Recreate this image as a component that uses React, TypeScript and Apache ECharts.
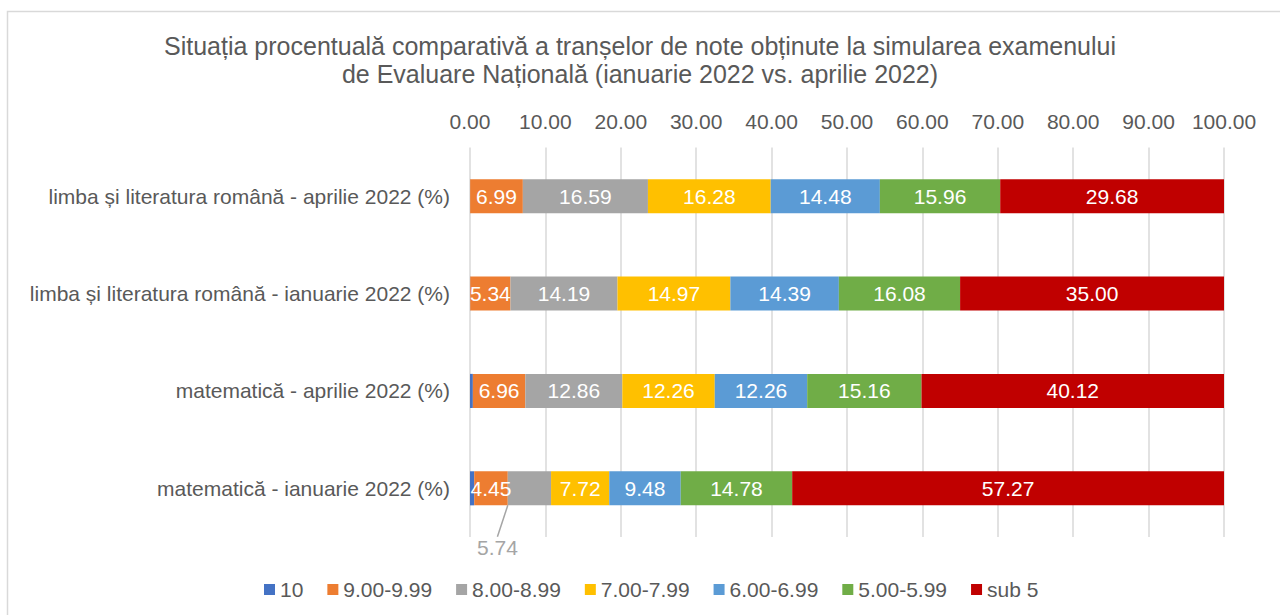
import React, { useEffect, useRef } from "react";
import * as echarts from "echarts";

const categories = [
  "matematică - ianuarie 2022 (%)",
  "matematică - aprilie 2022 (%)",
  "limba și literatura română - ianuarie 2022 (%)",
  "limba și literatura română - aprilie 2022 (%)",
];
const seriesNames = ["10", "9.00-9.99", "8.00-8.99", "7.00-7.99", "6.00-6.99", "5.00-5.99", "sub 5"];
const v10 = [0.56, 0.38, 0.03, 0.02];
const v9 = [4.45, 6.96, 5.34, 6.99];
const v8 = [5.74, 12.86, 14.19, 16.59];
const v7 = [7.72, 12.26, 14.97, 16.28];
const v6 = [9.48, 12.26, 14.39, 14.48];
const v5 = [14.78, 15.16, 16.08, 15.96];
const vSub5 = [57.27, 40.12, 35.0, 29.68];
const seriesValues = [v10, v9, v8, v7, v6, v5, vSub5];
const colors = ["#4472c4", "#ed7d31", "#a5a5a5", "#ffc000", "#5b9bd5", "#70ad47", "#c00000"];
const xTicks = { min: 0, max: 100, interval: 10 };
const titleText =
  "Situația procentuală comparativă a tranșelor de note obținute la simularea examenului\nde Evaluare Națională (ianuarie 2022 vs. aprilie 2022)";

const FONT = "'Liberation Sans', Arial, sans-serif";
const TXT = "#595959";
const FS = 21;

export default function App() {
  const ref = useRef<HTMLDivElement>(null);
  useEffect(() => {
    if (!ref.current) return;
    const chart = echarts.init(ref.current, null, { renderer: "svg" });
    const series = seriesNames.map((name, si) => {
      const isGray = si === 2;
      return {
        name,
        type: "bar",
        stack: "total",
        barWidth: "35%",
        itemStyle: { color: colors[si] },
        label: {
          show: si !== 0,
          position: "inside",
          color: "#ffffff",
          fontSize: FS,
          fontFamily: FONT,
          formatter: (p: any) => Number(p.value).toFixed(2),
        },
        labelLine: { show: false },
        labelLayout: isGray
          ? (params: any) => (params.dataIndex === 0 ? { dx: -32, dy: 59 } : {})
          : undefined,
        data: seriesValues[si].map((v, di) => {
          if (isGray && di === 0) {
            return {
              value: v,
              label: { color: "#a5a5a5" },
              labelLine: { show: true, lineStyle: { color: "#a5a5a5", width: 1.5 } },
            };
          }
          return v;
        }),
      };
    });
    chart.setOption({
      animation: false,
      textStyle: { fontFamily: FONT },
      title: {
        text: titleText,
        left: "center",
        top: 27,
        textStyle: { color: TXT, fontSize: 25, fontWeight: "normal", lineHeight: 28, fontFamily: FONT },
      },
      graphic: [
        {
          type: "rect",
          shape: { x: 7.5, y: 11.5, width: 1400, height: 800 },
          style: { fill: "none", stroke: "#d9d9d9", lineWidth: 1.5 },
          silent: true,
          z: -10,
        },
      ],
      legend: {
        left: 259,
        top: 574,
        itemWidth: 11,
        itemHeight: 11,
        itemGap: 24,
        icon: "rect",
        textStyle: { color: TXT, fontSize: FS, fontFamily: FONT },
        data: seriesNames,
      },
      grid: { left: 470, right: 56, top: 147.5, bottom: 78, containLabel: false },
      xAxis: {
        type: "value",
        position: "top",
        min: xTicks.min,
        max: xTicks.max,
        interval: xTicks.interval,
        axisLine: { show: false },
        axisTick: { show: false },
        splitLine: { show: true, lineStyle: { color: "#d9d9d9", width: 1.5 } },
        axisLabel: {
          color: TXT,
          fontSize: FS,
          fontFamily: FONT,
          margin: 16,
          formatter: (v: number) => v.toFixed(2),
        },
      },
      yAxis: {
        type: "category",
        data: categories,
        axisLine: { show: false },
        axisTick: { show: false },
        axisLabel: { color: TXT, fontSize: FS, fontFamily: FONT, margin: 20 },
      },
      series,
    });
    return () => chart.dispose();
  }, []);
  return (
    <div
      ref={ref}
      style={{ position: "fixed", left: 0, top: 0, width: 1280, height: 615, background: "#fff" }}
    />
  );
}
